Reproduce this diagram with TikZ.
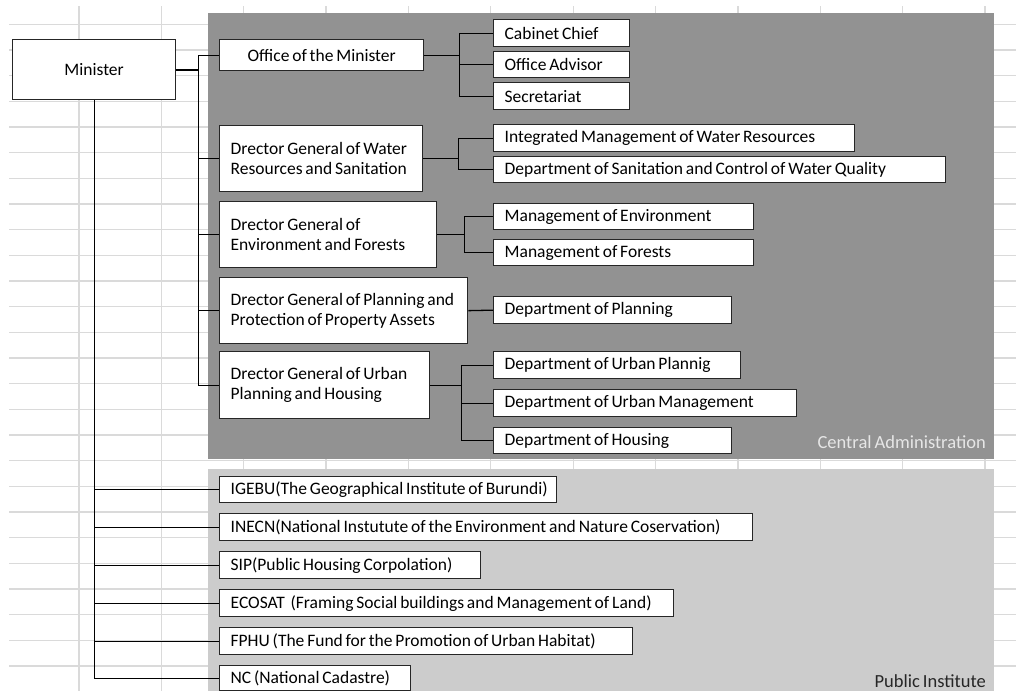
\documentclass[tikz,border=0pt]{standalone}
\usepackage{fontspec}
\setmainfont{Carlito}[WordSpace=0.72]
\definecolor{gridc}{HTML}{DADADA}
\definecolor{darkreg}{HTML}{929292}
\definecolor{lightreg}{HTML}{CCCCCC}
\definecolor{labc}{HTML}{E6E6E6}
\definecolor{boxc}{HTML}{262626}
\begin{document}
\begin{tikzpicture}[x=1pt,y=-1pt,
  gridline/.style={draw=gridc, line width=1.3pt},
  bx/.style={draw=boxc, fill=white, line width=1.3pt, anchor=north west, inner xsep=11pt, inner ysep=0pt, align=flush left, font={\fontsize{17.5}{20}\selectfont}},
  cbx/.style={bx, align=flush center},
  conn/.style={draw=black, line width=1.3pt},
  reglabel/.style={anchor=base east, inner sep=0pt, font={\fontsize{18.5}{20}\selectfont}}
]
\useasboundingbox (0,0) rectangle (1016,691);
\fill[white] (0,0) rectangle (1016,691);
% spreadsheet grid
\foreach \i in {0,...,25} \draw[gridline] (9,{24.3+25.67*\i}) -- (1016,{24.3+25.67*\i});
\foreach \i in {0,...,11} \draw[gridline] ({79+82.36*\i},6) -- ({79+82.36*\i},691);
% regions
\fill[darkreg] (208,13) rectangle (994,459);
\fill[lightreg] (208,469) rectangle (994,691);
\node[reglabel, text=labc] (cal) at (986,448) {Central Administration};
\node[reglabel, text=black!85] (pil) at (986,687.5) {Public Institute};
% minister
\node[cbx, text width=141pt, minimum height=60pt] (min) at (12,39) {Minister};
% central administration
\node[cbx, text width=182pt, minimum height=31pt] (off) at (219,39) {\mbox{Office of the Minister}};
\node[bx, text width=114pt, minimum height=27pt] (cc) at (493,19) {\mbox{Cabinet Chief}};
\node[bx, text width=114pt, minimum height=26pt] (oa) at (493,51) {\mbox{Office Advisor}};
\node[bx, text width=114pt, minimum height=27pt] (sec) at (493,82) {\mbox{Secretariat}};
\node[bx, text width=181pt, minimum height=66pt] (dgw) at (219,125) {\mbox{Drector General of Water}\\\mbox{Resources and Sanitation}};
\node[bx, text width=339pt, minimum height=27pt] (imwr) at (493,124) {\mbox{Integrated Management of Water Resources}};
\node[bx, text width=430pt, minimum height=26pt] (dscw) at (493,156) {\mbox{Department of Sanitation and Control of Water Quality}};
\node[bx, text width=195pt, minimum height=66pt] (dge) at (219,201) {\mbox{Drector General of}\\\mbox{Environment and Forests}};
\node[bx, text width=238pt, minimum height=26pt] (me) at (493,203) {\mbox{Management of Environment}};
\node[bx, text width=238pt, minimum height=26pt] (mf) at (493,239) {\mbox{Management of Forests}};
\node[bx, text width=226pt, minimum height=66pt] (dgp) at (219,277) {\mbox{Drector General of Planning and}\\\mbox{Protection of Property Assets}};
\node[bx, text width=216pt, minimum height=27pt] (dp) at (493,296) {\mbox{Department of Planning}};
\node[bx, text width=188pt, minimum height=67pt] (dgu) at (219,351) {\mbox{Drector General of Urban}\\\mbox{Planning and Housing}};
\node[bx, text width=225pt, minimum height=27pt] (dup) at (493,351) {\mbox{Department of Urban Plannig}};
\node[bx, text width=281pt, minimum height=27pt] (dum) at (493,389) {\mbox{Department of Urban Management}};
\node[bx, text width=216pt, minimum height=26pt] (dh) at (493,427) {\mbox{Department of Housing}};
% public institutes
\node[bx, text width=315pt, minimum height=26pt] (ig) at (219,476) {\mbox{IGEBU(The Geographical Institute of Burundi)}};
\node[bx, text width=511pt, minimum height=27pt] (ine) at (219,513) {\mbox{INECN(National Instutute of the Environment and Nature Coservation)}};
\node[bx, text width=239pt, minimum height=27pt] (sip) at (219,551) {\mbox{SIP(Public Housing Corpolation)}};
\node[bx, text width=432pt, minimum height=27pt] (eco) at (219,589) {\mbox{ECOSAT\ \ (Framing Social buildings and Management of Land)}};
\node[bx, text width=391pt, minimum height=27pt] (fph) at (219,627) {\mbox{FPHU (The Fund for the Promotion of Urban Habitat)}};
\node[bx, text width=169pt, minimum height=25pt] (nc) at (219,665) {\mbox{NC (National Cadastre)}};
% connectors
\draw[conn, line width=2pt] (min.east) -- ++(22,0) coordinate (mb);
\foreach \n in {off,dgw,dge,dgp,dgu} \draw[conn] (\n.west) -| (mb);
\draw[conn] (off.east) -- ++(35,0) coordinate (ob);
\foreach \n in {cc,oa,sec} \draw[conn] (\n.west) -| (ob);
\draw[conn] (dgw.east) -- ++(35,0) coordinate (wb);
\foreach \n in {imwr,dscw} \draw[conn] (\n.west) -| (wb);
\draw[conn] (dge.east) -- ++(27,0) coordinate (eb);
\foreach \n in {me,mf} \draw[conn] (\n.west) -| (eb);
\draw[conn] (dgp.east) -- (dp.west);
\draw[conn] (dgu.east) -- ++(31,0) coordinate (ub);
\foreach \n in {dup,dum,dh} \draw[conn] (\n.west) -| (ub);
\foreach \n in {ig,ine,sip,eco,fph,nc} \draw[conn] (\n.west) -| (min.south);
\end{tikzpicture}
\end{document}
